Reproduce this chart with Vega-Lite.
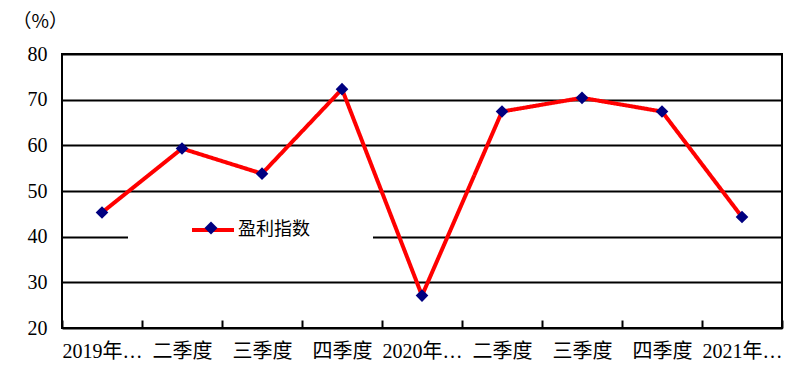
{
  "$schema": "https://vega.github.io/schema/vega-lite/v6.json",
  "width": 720,
  "height": 274,
  "autosize": {"type": "none"},
  "padding": {"left": 62, "top": 54, "right": 30, "bottom": 47},
  "background": "white",
  "config": {
    "view": {"stroke": "black", "strokeWidth": 2},
    "font": "Liberation Serif, Noto Sans CJK SC"
  },
  "data": {
    "values": [
      {"period": "2019年一季度", "value": 45.3, "series": "盈利指数"},
      {"period": "2019年二季度", "value": 59.3, "series": "盈利指数"},
      {"period": "2019年三季度", "value": 53.8, "series": "盈利指数"},
      {"period": "2019年四季度", "value": 72.3, "series": "盈利指数"},
      {"period": "2020年一季度", "value": 27.1, "series": "盈利指数"},
      {"period": "2020年二季度", "value": 67.4, "series": "盈利指数"},
      {"period": "2020年三季度", "value": 70.4, "series": "盈利指数"},
      {"period": "2020年四季度", "value": 67.4, "series": "盈利指数"},
      {"period": "2021年一季度", "value": 44.3, "series": "盈利指数"}
    ]
  },
  "encoding": {
    "x": {
      "field": "period",
      "type": "ordinal",
      "sort": null,
      "scale": {"type": "band", "paddingInner": 0, "paddingOuter": 0},
      "axis": {
        "title": null,
        "domain": false,
        "grid": false,
        "tickBand": "extent",
        "ticks": true,
        "tickSize": -8,
        "tickWidth": 2,
        "tickColor": "black",
        "labelAngle": 0,
        "labelFont": "Liberation Serif, Noto Sans CJK SC",
        "labelFontSize": 20,
        "labelColor": "black",
        "labelPadding": 21,
        "labelLimit": 82,
        "labelExpr": "indexof(datum.label, '一季度') >= 0 ? datum.label : substring(datum.label, 5)"
      }
    },
    "y": {
      "field": "value",
      "type": "quantitative",
      "scale": {"domain": [20, 80], "nice": false, "zero": false},
      "axis": {
        "values": [20, 30, 40, 50, 60, 70, 80],
        "domain": false,
        "ticks": false,
        "grid": true,
        "gridColor": "black",
        "gridWidth": 2,
        "gridOpacity": 1,
        "labelFont": "Liberation Serif, Noto Sans CJK SC",
        "labelFontSize": 20,
        "labelColor": "black",
        "labelPadding": 15,
        "title": "（%）",
        "titleAngle": 0,
        "titleAlign": "left",
        "titleBaseline": "middle",
        "titleX": -50,
        "titleY": -33,
        "titleFont": "Noto Sans CJK SC",
        "titleFontSize": 19,
        "titleFontWeight": "normal",
        "titleColor": "black"
      }
    }
  },
  "layer": [
    {
      "mark": {"type": "line", "strokeWidth": 4},
      "encoding": {
        "color": {
          "field": "series",
          "type": "nominal",
          "scale": {"range": ["#FF0000"]},
          "legend": {
            "orient": "none",
            "legendX": 66,
            "legendY": 141.5,
            "symbolType": "M-2,0H2",
            "symbolSize": 441,
            "symbolStrokeWidth": 4,
            "symbolStrokeColor": "#FF0000",
            "symbolFillColor": "transparent",
            "symbolOffset": 50.5,
            "fillColor": "white",
            "strokeColor": null,
            "padding": 22,
            "title": null,
            "labelFont": "Noto Sans CJK SC",
            "labelFontSize": 18,
            "labelColor": "black",
            "labelOffset": 12.5,
            "zindex": 0
          }
        },
        "strokeDash": {
          "datum": "实线",
          "scale": {"range": [[1, 0]]},
          "legend": {
            "orient": "none",
            "legendX": 265,
            "legendY": 151,
            "title": null,
            "fillColor": "white",
            "strokeColor": null,
            "padding": 17,
            "symbolSize": 100,
            "symbolOpacity": 0,
            "labelExpr": "''",
            "labelOffset": 0,
            "labelFontSize": 10,
            "zindex": 0
          }
        }
      }
    },
    {
      "mark": {"type": "point", "filled": true, "color": "#000080", "opacity": 1, "size": 160},
      "encoding": {
        "shape": {
          "datum": "盈利指数",
          "scale": {"range": ["diamond"]},
          "legend": {
            "orient": "none",
            "legendX": 142.5,
            "legendY": 167.5,
            "title": null,
            "padding": 0,
            "labelOpacity": 0,
            "labelFontSize": 1,
            "labelOffset": 0,
            "symbolSize": 169,
            "symbolFillColor": "#000080",
            "symbolStrokeWidth": 0,
            "symbolOpacity": 1,
            "zindex": 1
          }
        }
      }
    }
  ]
}
